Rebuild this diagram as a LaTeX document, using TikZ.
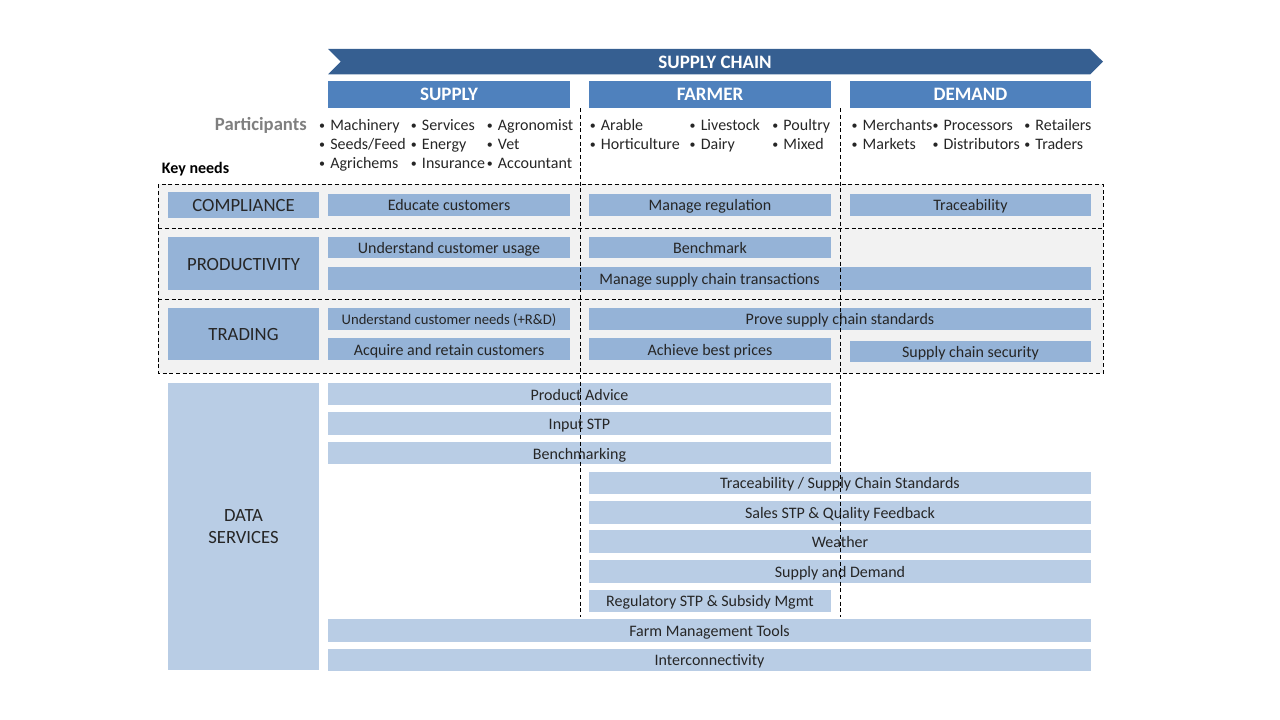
\documentclass[tikz,border=0pt]{standalone}
\usepackage{fontspec}
\setmainfont{Carlito}
\usetikzlibrary{fit}
\definecolor{chainblue}{HTML}{365F91}
\definecolor{headblue}{HTML}{4F81BD}
\definecolor{needblue}{HTML}{95B3D7}
\definecolor{datablue}{HTML}{B9CDE5}
\definecolor{bandgrey}{HTML}{F2F2F2}
\definecolor{inkgrey}{HTML}{262626}
\definecolor{partgrey}{HTML}{7F7F7F}
\tikzset{
  celltext/.style={inner sep=0pt, outer sep=0pt, text=inkgrey, font=\fontsize{12}{14}\selectfont, text height=10.5pt, text depth=1.5pt},
  headtext/.style={celltext, text=white, font=\fontsize{14.25}{17}\selectfont\bfseries, text height=11pt, text depth=1pt},
  keytext/.style={celltext, font=\fontsize{14}{17}\selectfont, text height=11.25pt, text depth=0.75pt},
  head/.style={fill=headblue, inner sep=0pt, outer sep=0pt, label={[headtext]center:#1}},
  keyneed/.style={fill=needblue, inner sep=0pt, outer sep=0pt, label={[keytext]center:#1}},
  need/.style={fill=needblue, inner sep=0pt, outer sep=0pt, label={[celltext]center:#1}},
  datum/.style={fill=datablue, inner sep=0pt, outer sep=0pt, label={[celltext]center:#1}},
  item/.style={anchor=base west, inner sep=0pt, text=inkgrey, font=\fontsize{12}{14}\selectfont},
  sep/.style={dash pattern=on 3pt off 2pt, line width=0.6pt},
}
\newcommand{\bul}{\llap{\raisebox{0.9pt}{\fontsize{9}{9}\selectfont •}\hspace{3.8pt}}}
\begin{document}
\begin{tikzpicture}[x=0.75pt, y=-0.75pt]
            \useasboundingbox (0,0) rectangle (1280,720);
            \fill[chainblue] (328,49) -- (1090,49) -- (1103,61.7) -- (1090,74.5) -- (328,74.5) -- (340.7,61.7) -- cycle;
            \node[headtext] (chain) at (715,61.7) {SUPPLY CHAIN};
            \node[head=SUPPLY, fit={(328,80.7) (570,107.7)}] (supply) {};
            \node[head=FARMER, fit={(589,80.7) (831,107.7)}] (farmer) {};
            \node[head=DEMAND, fit={(850,80.7) (1091,107.7)}] (demand) {};
            \node[anchor=base east, inner sep=0pt, text=partgrey, font=\fontsize{14}{17}\selectfont\bfseries] (participants) at (307,130.5) {Participants};
            \node[item] (machinery) at (330,130.5) {\bul Machinery};
            \node[item] (seeds) at (330,149.5) {\bul Seeds/Feed};
            \node[item] (agrichems) at (330,168.5) {\bul Agrichems};
            \node[item] (services) at (421.7,130.5) {\bul Services};
            \node[item] (energy) at (421.7,149.5) {\bul Energy};
            \node[item] (insurance) at (421.7,168.5) {\bul Insurance};
            \node[item] (agronomist) at (497.7,130.5) {\bul Agronomist};
            \node[item] (vet) at (497.7,149.5) {\bul Vet};
            \node[item] (accountant) at (497.7,168.5) {\bul Accountant};
            \node[item] (arable) at (600.7,130.5) {\bul Arable};
            \node[item] (horticulture) at (600.7,149.5) {\bul Horticulture};
            \node[item] (livestock) at (700.5,130.5) {\bul Livestock};
            \node[item] (dairy) at (700.5,149.5) {\bul Dairy};
            \node[item] (poultry) at (783.2,130.5) {\bul Poultry};
            \node[item] (mixed) at (783.2,149.5) {\bul Mixed};
            \node[item] (merchants) at (862.4,130.5) {\bul Merchants};
            \node[item] (markets) at (862.4,149.5) {\bul Markets};
            \node[item] (processors) at (943.3,130.5) {\bul Processors};
            \node[item] (distributors) at (943.3,149.5) {\bul Distributors};
            \node[item] (retailers) at (1035.2,130.5) {\bul Retailers};
            \node[item] (traders) at (1035.2,149.5) {\bul Traders};
            \node[item, text=black, font=\fontsize{12}{14}\selectfont\bfseries] (keyneeds) at (161.7,173.3) {Key needs};
            \draw[sep, fill=bandgrey] (158.3,184.3) rectangle (1103,373.3);
            \draw[sep] (158.3,228.3) -- (1103,228.3);
            \draw[sep] (158.3,299.3) -- (1103,299.3);
            \node[keyneed=COMPLIANCE, fit={(168,191.7) (319,218.3)}] (compliance) {};
            \node[need={Educate customers}, fit={(328,194) (570,215.7)}] (educate) {};
            \node[need={Manage regulation}, fit={(589,194) (831,215.7)}] (regulation) {};
            \node[need={Traceability}, fit={(850,194) (1091,215.7)}] (traceability) {};
            \node[keyneed=PRODUCTIVITY, fit={(168,236.7) (319,290)}] (productivity) {};
            \node[need={Understand customer usage}, fit={(328,236.7) (570,258.3)}] (usage) {};
            \node[need={Benchmark}, fit={(589,236.7) (831,258.3)}] (benchmark) {};
            \node[need={Manage supply chain transactions}, fit={(328,267.3) (1091,290)}] (transactions) {};
            \node[keyneed=TRADING, fit={(168,307.7) (319,360)}] (trading) {};
            \node[fill=needblue, inner sep=0pt, outer sep=0pt, label={[celltext, font=\fontsize{11}{13}\selectfont]center:Understand customer needs (+R\&D)}, fit={(328,307.7) (570,330)}] (needs) {};
            \node[need={Prove supply chain standards}, fit={(589,307.7) (1091,330)}] (standards) {};
            \node[need={Acquire and retain customers}, fit={(328,338.3) (570,360)}] (acquire) {};
            \node[need={Achieve best prices}, fit={(589,338.3) (831,360)}] (prices) {};
            \node[need={Supply chain security}, fit={(850,340.5) (1091,362.3)}] (security) {};
            \node[fill=datablue, inner sep=0pt, outer sep=0pt, label={[keytext, align=center, text height=, text depth=]center:{DATA\\SERVICES}}, fit={(168,383.3) (319,670)}] (dataservices) {};
            \node[datum={Product Advice}, fit={(328,383.3) (831,405)}] (advice) {};
            \node[datum={Input STP}, fit={(328,412.3) (831,434.7)}] (input) {};
            \node[datum={Benchmarking}, fit={(328,442.3) (831,464)}] (benchmarking) {};
            \node[datum={Traceability / Supply Chain Standards}, fit={(589,471.7) (1091,493.7)}] (tracestd) {};
            \node[datum={Sales STP \& Quality Feedback}, fit={(589,501) (1091,523.7)}] (sales) {};
            \node[datum={Weather}, fit={(589,530.3) (1091,552.7)}] (weather) {};
            \node[datum={Supply and Demand}, fit={(589,560) (1091,582.7)}] (supplydemand) {};
            \node[datum={Regulatory STP \& Subsidy Mgmt}, fit={(589,590) (831,611.7)}] (regulatory) {};
            \node[datum={Farm Management Tools}, fit={(328,619.3) (1091,641.7)}] (farmtools) {};
            \node[datum={Interconnectivity}, fit={(328,649) (1091,670.7)}] (interconnectivity) {};
            \draw[sep] (580,108.3) -- (580,616.7);
            \draw[sep] (840,108.3) -- (840,616.7);
        \end{tikzpicture}
\end{document}
